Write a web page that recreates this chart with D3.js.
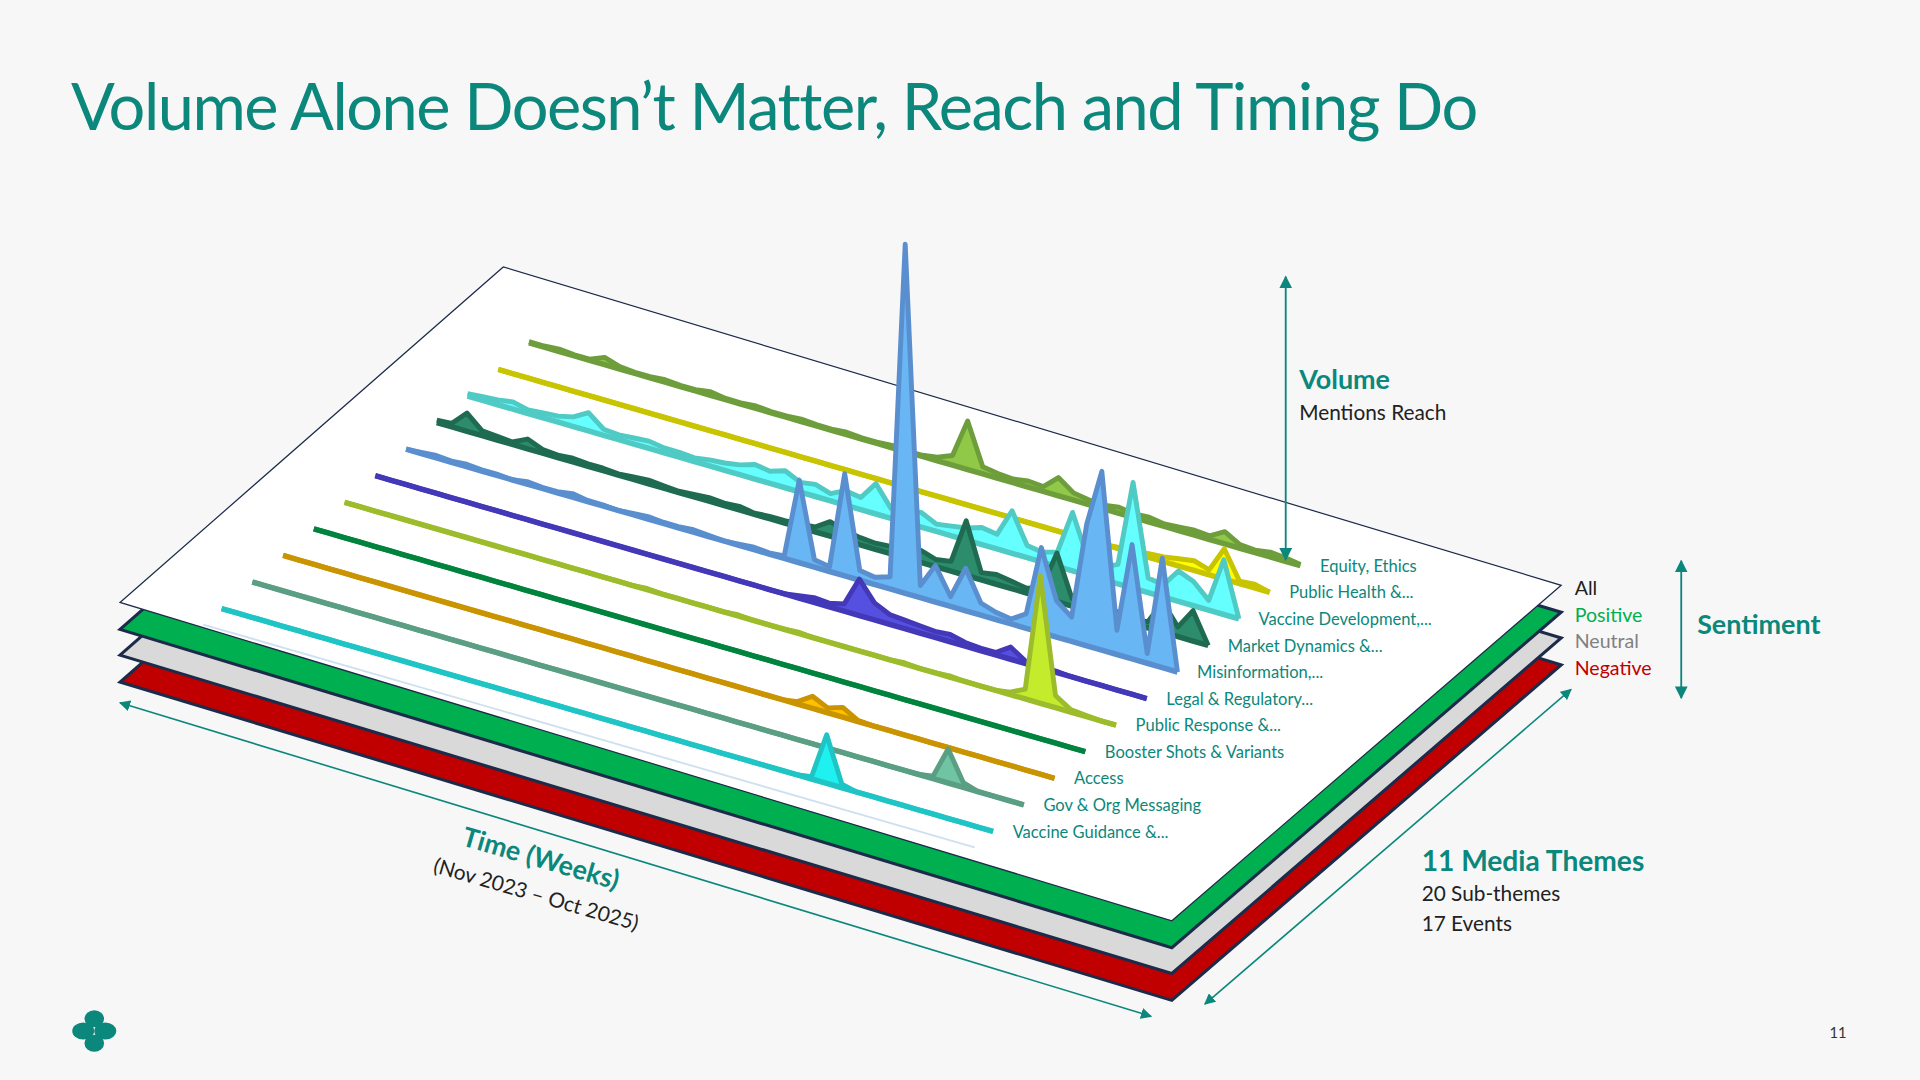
<!DOCTYPE html>
<html>
<head>
<meta charset="utf-8">
<script src="https://cdnjs.cloudflare.com/ajax/libs/d3/7.8.5/d3.min.js"></script>
<style>
  body { margin: 0; background: #f7f7f7; }
  svg { display: block; font-family: Lato, "Open Sans", sans-serif; }
</style>
</head>
<body>
<svg id="chart" width="1920" height="1080" viewBox="0 0 1568 882"></svg>
<script>
// themes, front (0) to back (10)
const themes = ['Vaccine Guidance &...', 'Gov & Org Messaging', 'Access', 'Booster Shots & Variants',
    'Public Response &...', 'Legal & Regulatory...', 'Misinformation,...', 'Market Dynamics &...',
    'Vaccine Development,...', 'Public Health &...', 'Equity, Ethics'];
const lineColors = ['#1fc4c4', '#5a9e84', '#c99400', '#00843d', '#9cbc2c', '#4338b8', '#5a8fcf',
    '#1f6b52', '#4fcac4', '#c8c400', '#6e9e3c'];
const fillColors = ['#1ff0f0', '#6fc4a4', '#ffc000', '#00a050', '#c4ec2c', '#5550e0', '#68b6f4',
    '#2c8c6c', '#66ffff', '#ffff00', '#90c848'];

// weekly volume (mentions reach), 52 samples across Nov 2023 - Oct 2025
const vaccineGuidance = [0,0,0,0,0,0,0,0,0,0,0,0,0,0,0,0,0,0,0,0,0,0,0,0,0,0,0,0,0,0,0,0,0,0,0,0,0,0,0,2,40,3,0,0,0,0,0,0,0,0,0,0];
const govMessaging    = [0,0,0,0,0,0,0,0,0,0,0,0,0,0,0,0,0,0,0,0,0,0,0,0,0,0,0,0,0,0,0,0,0,0,0,0,0,0,0,0,0,0,0,0,0,2,28,4,0,0,0,0];
const access          = [0,0,0,0,0,0,0,0,0,0,0,0,0,0,0,0,0,0,0,0,0,0,0,0,0,0,0,0,0,0,0,0,0,0,2,10,4,8,1,0,0,0,0,0,0,0,0,0,0,0,0,0];
const booster         = [0,0,0,0,0,0,0,0,0,0,0,0,0,0,0,0,0,0,0,0,0,0,0,0,0,0,0,0,0,0,0,0,0,0,0,0,0,0,0,0,0,0,0,0,0,0,0,0,0,0,0,0];
const publicResponse  = [0,0,0,0,0,0,0,0,0,0,0,0,0,0,0,0,0,0,0,0,1,0,0,0,0,0,1,0,0,0,1,0,0,0,0,0,0,1,0,0,1,0,0,0,2,8,105,10,2,1,0,0];
const legal           = [0,0,0,0,0,0,0,0,0,0,0,0,0,0,0,0,0,0,0,0,0,0,0,0,0,0,0,0,2,4,3,6,30,14,8,7,6,5,6,3,2,2,10,2,1,1,0,0,0,0,0,0];
const misinformation  = [0,1,2,1,2,1,1,0,2,1,1,3,1,1,0,1,2,1,1,2,1,0,1,2,1,2,68,6,4,84,8,6,10,287,10,30,8,35,10,6,4,12,70,30,20,100,147,20,94,8,90,0];
const marketDynamics  = [2,3,15,4,3,2,8,3,2,3,2,2,1,2,3,2,1,2,3,2,3,1,2,2,3,4,12,8,6,5,6,4,10,6,8,45,6,8,6,4,8,40,6,10,8,6,4,5,25,8,25,0];
const vaccineDev      = [2,3,4,6,3,4,5,8,15,5,4,5,6,4,4,3,5,6,8,12,10,14,8,10,6,12,10,25,8,10,12,6,8,10,14,12,35,10,8,12,48,14,10,16,87,12,10,25,20,8,45,0];
const publicHealth    = [0,0,0,0,0,0,0,0,0,0,0,0,0,0,0,0,0,0,0,0,0,0,0,0,0,0,0,0,0,0,0,0,0,0,0,0,0,0,0,0,0,1,2,3,4,6,8,4,25,2,3,0];
const equityEthics    = [1,1,2,1,1,6,2,1,1,2,1,1,3,1,1,2,1,1,2,1,1,2,1,1,2,1,1,3,8,40,6,4,3,5,4,15,6,4,3,5,3,4,2,3,4,3,10,3,2,4,3,1];
const seriesValues = [vaccineGuidance, govMessaging, access, booster, publicResponse, legal,
    misinformation, marketDynamics, vaccineDev, publicHealth, equityEthics];

const sentimentLabels = ['All', 'Positive', 'Neutral', 'Negative'];
const sentimentColors = ['#222222', '#00b050', '#808080', '#c00000'];

const svg = d3.select('#chart');
const teal = '#0b877c';

// projection of the plane
const origin = [181, 497];
const timeVec = [630, 182];
const themeVec = [25.1, -21.7];
const tScale = d3.scaleLinear().domain([0, 51]).range([0, 1]);
const vScale = d3.scaleLinear().domain([0, 300]).range([0, 298]);
function proj(i, k, v) {
    const t = tScale(i);
    return [origin[0] + t * timeVec[0] + k * themeVec[0],
            origin[1] + t * timeVec[1] + k * themeVec[1] - vScale(v)];
}

// arrow marker
const defs = svg.append('defs');
defs.append('marker').attr('id', 'arr').attr('viewBox', '0 0 10 10').attr('refX', 9).attr('refY', 5)
    .attr('markerWidth', 7).attr('markerHeight', 7).attr('orient', 'auto-start-reverse')
    .append('path').attr('d', 'M0,0 L10,5 L0,10 z').attr('fill', teal);

// title
svg.append('text').attr('x', 58).attr('y', 106).attr('fill', teal).attr('font-size', 53)
    .attr('letter-spacing', -1.2).text('Volume Alone Doesn\u2019t Matter, Reach and Timing Do');

// stacked sentiment sheets
const corners = [[98, 492], [411, 218], [1275, 478], [957, 752]];
const sheets = [{dy: 65, fill: '#c00000'}, {dy: 43, fill: '#d9d9d9'}, {dy: 22, fill: '#00b050'}, {dy: 0, fill: '#ffffff'}];
sheets.forEach(function (s) {
    svg.append('path')
        .attr('d', d3.line()(corners.map(c => [c[0], c[1] + s.dy])) + 'Z')
        .attr('fill', s.fill).attr('stroke', '#1c2b4a').attr('stroke-width', s.dy === 0 ? 1 : 2.5);
});

// faint guide in front
svg.append('path').attr('d', d3.line()([proj(0, -0.6, 0), proj(51, -0.6, 0)]))
    .attr('stroke', '#cfe0ef').attr('stroke-width', 1.5);

// series from back to front
for (let k = seriesValues.length - 1; k >= 0; k--) {
    const vals = seriesValues[k];
    const g = svg.append('g');
    const top = vals.map((v, i) => proj(i, k, v));
    const base = vals.map((v, i) => proj(i, k, 0)).reverse();
    g.append('path').attr('d', d3.line()(top.concat(base)) + 'Z')
        .attr('fill', fillColors[k]).attr('stroke', 'none');
    g.append('path').attr('d', d3.line()(top))
        .attr('fill', 'none').attr('stroke', lineColors[k]).attr('stroke-width', 4)
        .attr('stroke-linejoin', 'round');
    g.append('path').attr('d', d3.line()(base))
        .attr('fill', 'none').attr('stroke', lineColors[k]).attr('stroke-width', 4.5);
    const end = proj(51, k, 0);
    svg.append('text').attr('x', end[0] + 16).attr('y', end[1] + 5)
        .attr('fill', teal).attr('font-size', 13.5).text(themes[k]);
}

// volume axis
svg.append('line').attr('x1', 1050).attr('y1', 226).attr('x2', 1050).attr('y2', 457)
    .attr('stroke', teal).attr('stroke-width', 1.5)
    .attr('marker-start', 'url(#arr)').attr('marker-end', 'url(#arr)');
svg.append('text').attr('x', 1061).attr('y', 318).attr('fill', teal).attr('font-size', 22)
    .attr('font-weight', 'bold').text('Volume');
svg.append('text').attr('x', 1061).attr('y', 343).attr('fill', '#222').attr('font-size', 17)
    .text('Mentions Reach');

// sentiment axis
svg.append('line').attr('x1', 1373).attr('y1', 458).attr('x2', 1373).attr('y2', 570)
    .attr('stroke', teal).attr('stroke-width', 1.5)
    .attr('marker-start', 'url(#arr)').attr('marker-end', 'url(#arr)');
svg.append('text').attr('x', 1386).attr('y', 518).attr('fill', teal).attr('font-size', 22)
    .attr('font-weight', 'bold').text('Sentiment');
sentimentLabels.forEach(function (s, i) {
    svg.append('text').attr('x', 1286).attr('y', 486 + i * 21.7).attr('fill', sentimentColors[i])
        .attr('font-size', 16).text(s);
});

// time axis
svg.append('line').attr('x1', 98).attr('y1', 574).attr('x2', 940).attr('y2', 830)
    .attr('stroke', teal).attr('stroke-width', 1.3)
    .attr('marker-start', 'url(#arr)').attr('marker-end', 'url(#arr)');
const ang = Math.atan2(timeVec[1], timeVec[0]) * 180 / Math.PI;
svg.append('text').attr('transform', `translate(376,690) rotate(${ang})`)
    .attr('fill', teal).attr('font-size', 22).attr('font-weight', 'bold').text('Time (Weeks)');
svg.append('text').attr('transform', `translate(353,712) rotate(${ang})`)
    .attr('fill', '#222').attr('font-size', 17).text('(Nov 2023 \u2013 Oct 2025)');

// themes axis
svg.append('line').attr('x1', 984).attr('y1', 820).attr('x2', 1283).attr('y2', 563)
    .attr('stroke', teal).attr('stroke-width', 1.3)
    .attr('marker-start', 'url(#arr)').attr('marker-end', 'url(#arr)');
svg.append('text').attr('x', 1161).attr('y', 711).attr('fill', teal).attr('font-size', 23)
    .attr('font-weight', 'bold').text('11 Media Themes');
svg.append('text').attr('x', 1161).attr('y', 736).attr('fill', '#222').attr('font-size', 17).text('20 Sub-themes');
svg.append('text').attr('x', 1161).attr('y', 760).attr('fill', '#222').attr('font-size', 17).text('17 Events');

// logo and page number
const logo = svg.append('g').attr('transform', 'translate(77,842)').attr('fill', teal);
[[0, -10], [-9, 0], [9, 0], [0, 10]].forEach(function (p) {
    logo.append('ellipse').attr('cx', p[0]).attr('cy', p[1]).attr('rx', p[1] === 0 ? 9 : 8).attr('ry', 7);
});
svg.append('text').attr('x', 1494).attr('y', 848).attr('fill', '#333').attr('font-size', 12).text('11');
</script>
</body>
</html>
